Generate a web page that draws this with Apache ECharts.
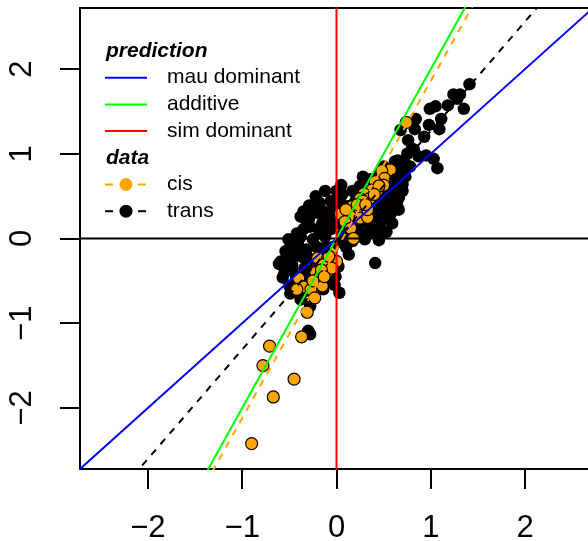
<!DOCTYPE html>
<html>
<head>
<meta charset="utf-8">
<style>
  html, body { margin: 0; padding: 0; background: #fff; }
  #chart { width: 588px; height: 541px; }
</style>
<script src="https://cdn.jsdelivr.net/npm/echarts@6/dist/echarts.min.js"></script>
</head>
<body>
<div id="chart"></div>
<script>
// Axis ticks shared by both axes
const tickValues = [-2, -1, 0, 1, 2];
const axisLimit = 2.72;

// Observed log-ratios: cis effects (orange) and trans effects (black)
const cisPoints = [
  [0.74, 1.37], [0.57, 0.81], [0.48, 0.80], [0.51, 0.71], [0.41, 0.67], [0.50, 0.63],
  [0.37, 0.57], [0.29, 0.53], [0.25, 0.47], [0.35, 0.47], [0.17, 0.38], [0.21, 0.34],
  [0.04, 0.29], [0.15, 0.26], [0.25, 0.24], [0.33, 0.25], [0.09, 0.20], [0.15, 0.12],
  [0.18, 0.00], [-0.06, -0.17], [-0.20, -0.23], [-0.10, -0.25], [0.00, -0.27], [-0.14, -0.31],
  [-0.22, -0.40], [-0.10, -0.40], [-0.18, -0.46], [-0.40, -0.47], [-0.35, -0.57], [-0.42, -0.60],
  [-0.27, -0.60], [-0.15, -0.56], [-0.23, -0.70], [-0.31, -0.87], [-0.37, -1.16], [-0.71, -1.27],
  [-0.78, -1.50], [-0.45, -1.66], [-0.67, -1.87], [-0.90, -2.42], [0.28, 0.44], [0.33, 0.34],
  [0.10, 0.34], [0.43, 0.56], [-0.05, -0.35], [-0.16, -0.37], [-0.25, -0.50], [-0.13, -0.45],
  [-0.08, -0.21], [0.22, 0.40], [0.31, 0.40], [0.45, 0.62], [0.40, 0.52]
];

const transPoints = [
  [1.41, 1.82], [1.24, 1.70], [1.28, 1.65], [1.18, 1.57], [1.05, 1.56], [0.99, 1.53],
  [1.35, 1.53], [1.11, 1.41], [0.98, 1.34], [1.09, 1.29], [0.83, 1.29], [0.68, 1.28],
  [0.93, 1.20], [0.76, 1.16], [0.82, 1.05], [0.95, 0.98], [1.03, 0.94], [1.07, 0.83],
  [0.73, 0.88], [0.65, 0.92], [0.75, 1.00], [0.65, 0.75], [0.64, 0.42], [0.59, 0.63],
  [0.84, 1.41], [1.31, 1.70], [0.60, 0.82], [0.68, 0.77], [0.80, 1.06],
  [0.06, 0.52], [0.57, 0.52], [0.54, 0.36], [0.47, 0.20], [0.43, 0.08], [0.41, 0.36],
  [0.39, 0.24], [0.36, 0.11], [0.02, 0.30], [0.01, 0.18], [0.07, 0.06], [0.33, 0.05],
  [0.47, 0.05], [0.45, -0.02], [0.54, 0.59], [0.60, 0.64], [0.50, 0.44], [0.36, 0.44],
  [0.05, 0.63], [0.41, -0.29], [0.53, 0.26], [0.45, 0.08], [0.61, 0.42], [0.25, 0.18],
  [0.30, -0.01], [0.20, 0.06], [0.13, -0.19], [0.17, -0.03], [0.10, -0.10], [0.62, 0.50],
  [0.66, 0.34],
  [-0.29, 0.39], [-0.29, 0.24], [-0.10, 0.30], [0.02, 0.47], [-0.14, 0.32], [-0.33, 0.23],
  [-0.28, 0.14], [-0.15, 0.18], [-0.09, 0.24], [-0.22, 0.38], [-0.06, 0.44], [-0.41, -0.06],
  [-0.43, -0.18], [-0.59, -0.27], [-0.52, -0.24], [-0.38, 0.02], [-0.25, -0.01], [-0.19, 0.11],
  [-0.12, 0.02], [-0.06, 0.11], [-0.35, 0.11], [-0.49, -0.10], [-0.42, -0.07], [-0.32, -0.13],
  [-0.21, -0.10], [-0.58, -0.31], [-0.57, -0.46], [-0.50, -0.56], [-0.34, -0.35], [-0.30, -0.23],
  [-0.47, -0.37], [-0.40, -0.51], [-0.49, -0.65], [-0.38, -0.72], [-0.28, -0.77], [0.03, -0.64],
  [-0.28, -1.13], [-0.30, -1.09], [-0.28, -0.80], [-0.14, -0.60], [-0.01, -0.45], [0.02, -0.33],
  [-0.04, -0.10], [-0.17, -0.15], [-0.54, -0.15], [-0.38, 0.26], [-0.22, 0.50], [-0.12, 0.56],
  [-0.03, 0.38], [0.12, 0.38], [0.17, 0.56], [0.25, 0.62], [0.28, 0.73], [0.36, 0.70],
  [0.44, 0.73], [0.50, 0.85], [0.62, 0.91], [0.55, 0.44], [0.15, 0.26], [-0.19, 0.30],
  [-0.47, -0.31], [-0.61, -0.30], [-0.43, -0.45],
  [0.10, 0.26], [0.20, 0.44], [0.31, 0.32], [0.23, 0.11], [0.13, 0.18], [0.04, -0.04],
  [-0.11, -0.10], [-0.22, -0.30], [-0.33, -0.45], [-0.25, -0.54], [-0.09, -0.49], [-0.06, -0.30],
  [-0.15, 0.06], [-0.28, 0.30], [-0.42, 0.06], [-0.51, -0.01], [0.52, 0.67], [0.73, 0.73],
  [0.78, 0.85], [0.87, 0.97], [0.70, 0.56], [0.38, 0.56], [0.59, 0.18], [0.53, 0.08],
  [0.48, 0.30], [0.58, 0.30], [0.66, 0.48], [0.70, 0.64], [0.47, 0.56], [0.42, 0.45],
  [0.35, 0.20], [0.27, 0.30], [0.44, 0.16], [0.52, 0.52], [0.62, 0.72], [0.57, 0.70],
  [0.05, 0.41], [0.00, 0.56], [-0.18, 0.42], [-0.35, 0.32], [-0.46, -0.22], [-0.36, -0.22],
  [-0.55, -0.40], [-0.44, -0.57], [-0.33, -0.62], [-0.24, -0.40], [-0.02, -0.55]
];

// Reference lines: [intercept, slope]
const mauDominant = [0, 1];
const additive = [0, 2];
const cisFit = [-0.13, 1.99];
const transFit = [-0.02, 1.29];

const legendPrediction = ['mau dominant', 'additive', 'sim dominant'];
const legendData = ['cis', 'trans'];

const FONT = '"Liberation Sans", Arial, Helvetica, sans-serif';

function ablinePoints(coef) {
  const xs = [-4, 4];
  return xs.map(x => [x, coef[0] + coef[1] * x]);
}

function lineSeries(name, data, color, dashed) {
  return {
    type: 'line', name, data, clip: true, showSymbol: false, symbol: 'none',
    silent: true, animation: false,
    lineStyle: { color, width: 2, type: dashed ? [7, 7] : 'solid' }
  };
}

const minusFmt = v => (v < 0 ? '\u2212' + Math.abs(v) : String(v));

const chart = echarts.init(document.getElementById('chart'), null, { renderer: 'canvas' });

// Legend drawn as graphic elements (two titled blocks)
const lx1 = 105, lx2 = 147, tx = 167, rowH = 26.7, y0 = 51;
const graphics = [];
graphics.push({ type: 'text', style: { text: 'prediction', x: 106, y: y0, font: 'italic bold 21px ' + FONT, fill: '#000', verticalAlign: 'middle', textVerticalAlign: 'middle' } });
const predColors = ['#0000FF', '#00FF00', '#FF0000'];
legendPrediction.forEach((lab, i) => {
  const y = y0 + rowH * (i + 1);
  graphics.push({ type: 'line', shape: { x1: lx1, y1: y, x2: lx2, y2: y }, style: { stroke: predColors[i], lineWidth: 2 } });
  graphics.push({ type: 'text', style: { text: lab, x: tx, y, font: '21px ' + FONT, fill: '#000', verticalAlign: 'middle', textVerticalAlign: 'middle' } });
});
const yData = y0 + rowH * 4;
graphics.push({ type: 'text', style: { text: 'data', x: 106, y: yData, font: 'italic bold 21px ' + FONT, fill: '#000', verticalAlign: 'middle', textVerticalAlign: 'middle' } });
const dataColors = ['#FFA500', '#000000'];
legendData.forEach((lab, i) => {
  const y = yData + rowH * (i + 1);
  graphics.push({ type: 'line', shape: { x1: lx1, y1: y, x2: lx1 + 8, y2: y }, style: { stroke: dataColors[i], lineWidth: 2 } });
  graphics.push({ type: 'line', shape: { x1: lx2 - 9, y1: y, x2: lx2 - 1, y2: y }, style: { stroke: dataColors[i], lineWidth: 2 } });
  graphics.push({ type: 'circle', shape: { cx: 126, cy: y, r: 6.5 }, style: { fill: dataColors[i] } });
  graphics.push({ type: 'text', style: { text: lab, x: tx, y, font: '21px ' + FONT, fill: '#000', verticalAlign: 'middle', textVerticalAlign: 'middle' } });
});

const axisCommon = {
  type: 'value',
  min: -axisLimit,
  max: axisLimit,
  splitLine: { show: false },
  axisLine: { show: false, onZero: false },
  axisTick: { show: true, customValues: tickValues, length: 20, inside: false, lineStyle: { color: '#000', width: 2 } },
  axisLabel: { customValues: tickValues, formatter: minusFmt, color: '#000', fontSize: 31, fontFamily: FONT }
};

chart.setOption({
  animation: false,
  backgroundColor: '#fff',
  grid: {
    left: 80, top: 8, width: 513, height: 461,
    show: true, borderColor: '#000', borderWidth: 2, backgroundColor: 'transparent',
    outerBoundsMode: 'none', containLabel: false
  },
  xAxis: Object.assign({}, axisCommon, {
    position: 'bottom',
    axisLabel: Object.assign({}, axisCommon.axisLabel, { margin: 44 })
  }),
  yAxis: Object.assign({}, axisCommon, {
    position: 'left',
    axisLabel: Object.assign({}, axisCommon.axisLabel, { margin: 42, rotate: 90 })
  }),
  graphic: graphics,
  series: [
    {
      type: 'scatter', name: 'trans', data: transPoints, symbolSize: 12.5,
      itemStyle: { color: '#000', opacity: 1 }, silent: true
    },
    {
      type: 'scatter', name: 'cis', data: cisPoints, symbolSize: 12,
      itemStyle: { color: '#FFA500', borderColor: '#000', borderWidth: 1.2, opacity: 1 }, silent: true
    },
    lineSeries('zero', [[-4, 0], [4, 0]], '#000', false),
    lineSeries('mau dominant', ablinePoints(mauDominant), '#0000FF', false),
    lineSeries('additive', ablinePoints(additive), '#00FF00', false),
    lineSeries('sim dominant', [[0, -4], [0, 4]], '#FF0000', false),
    lineSeries('cis fit', ablinePoints(cisFit), '#FFA500', true),
    lineSeries('trans fit', ablinePoints(transFit), '#000', true)
  ]
});
</script>
</body>
</html>
